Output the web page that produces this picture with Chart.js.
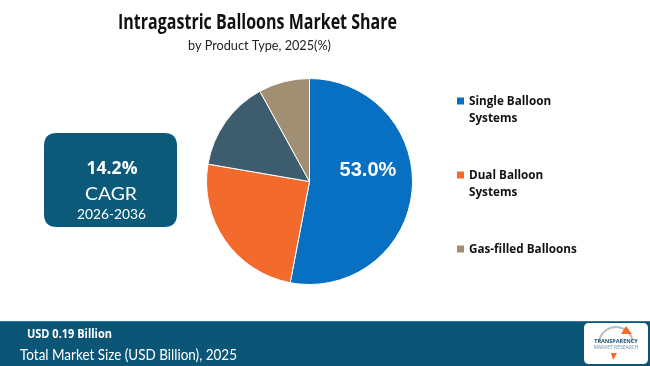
<!DOCTYPE html>
<html><head><meta charset="utf-8">
<script src="https://cdn.jsdelivr.net/npm/chart.js@4/dist/chart.umd.min.js"></script>
<style>html,body{margin:0;padding:0;background:#fff;}#wrap{width:650px;height:366px;position:relative;}</style>
</head><body><div id="wrap"><canvas id="c" width="650" height="366"></canvas></div>
<script>
const categories = ["Single Balloon Systems", "Dual Balloon Systems", "Others", "Gas-filled Balloons"];
const legendLines = [["Single Balloon", "Systems"], ["Dual Balloon", "Systems"], null, ["Gas-filled Balloons"]];
const shares = [53.0, 24.7, 14.3, 8.0];
const colors = ["#0770c2", "#f26b2d", "#3d5d6e", "#a08f72"];
const titleText = "Intragastric Balloons Market Share";
const subtitleText = "by Product Type, 2025(%)";
const cagrValue = "14.2%";
const cagrPeriod = "2026-2036";
const marketSize = "USD 0.19 Billion";
const marketLabel = "Total Market Size (USD Billion), 2025";

function rr(ctx,x,y,w,h,r){ctx.beginPath();ctx.moveTo(x+r,y);ctx.lineTo(x+w-r,y);ctx.quadraticCurveTo(x+w,y,x+w,y+r);ctx.lineTo(x+w,y+h-r);ctx.quadraticCurveTo(x+w,y+h,x+w-r,y+h);ctx.lineTo(x+r,y+h);ctx.quadraticCurveTo(x,y+h,x,y+h-r);ctx.lineTo(x,y+r);ctx.quadraticCurveTo(x,y,x+r,y);ctx.closePath();}
// draw text scaled horizontally by factor sx, anchored per textAlign
function stext(ctx,t,x,y,sx){ctx.save();ctx.translate(x,y);ctx.scale(sx,1);ctx.fillText(t,0,0);ctx.restore();}
function fitText(ctx,t,x,y,w){const m=ctx.measureText(t).width;stext(ctx,t,x,y,w/m);}

const deco = {
  id: 'deco',
  beforeDraw(chart){
    const ctx = chart.ctx;
    ctx.save();
    ctx.fillStyle = '#ffffff';
    ctx.fillRect(0,0,650,366);
    // title
    ctx.fillStyle = '#111';
    ctx.textAlign = 'center'; ctx.textBaseline = 'alphabetic';
    ctx.font = 'bold 21px "Open Sans"';
    fitText(ctx,titleText,257.5,29,279);
    ctx.font = '14px Lato';
    ctx.fillStyle = '#222';
    fitText(ctx,subtitleText,259.5,50,143);
    // CAGR box
    ctx.fillStyle = '#0b5a7a';
    rr(ctx,44,133,133,94,13); ctx.fill();
    ctx.fillStyle = '#fff';
    ctx.font = 'bold 18px "Open Sans"';
    fitText(ctx,cagrValue, 112, 174, 51);
    ctx.font = '18px Lato';
    fitText(ctx,'CAGR', 111, 200, 52);
    ctx.font = '14px Lato';
    fitText(ctx,cagrPeriod, 111.5, 219, 69);
    // bottom band
    ctx.fillStyle = '#0b5677';
    ctx.fillRect(0,321,650,45);
    ctx.fillStyle = '#2c7a9a';
    ctx.fillRect(0,321,650,1);
    ctx.fillStyle = '#fff';
    ctx.textAlign = 'left';
    ctx.font = 'bold 13px "Open Sans"';
    fitText(ctx,marketSize, 27, 338, 85);
    ctx.font = '16px Lato';
    fitText(ctx,marketLabel, 20, 360, 217);
    // logo
    ctx.fillStyle = '#fff';
    rr(ctx,584,323,64,41,5); ctx.fill();
    ctx.strokeStyle = '#bbb'; ctx.lineWidth = 2;
    ctx.beginPath(); ctx.arc(616,344,17,Math.PI*1.05,Math.PI*1.95); ctx.stroke();
    ctx.fillStyle = '#f26b2d';
    ctx.beginPath(); ctx.moveTo(626,326); ctx.lineTo(632,334); ctx.lineTo(621,334); ctx.closePath(); ctx.fill();
    ctx.fillStyle = '#1b4f72';
    ctx.textAlign = 'center';
    ctx.font = 'bold 5.5px "Open Sans"';
    ctx.fillText('TRANSPARENCY', 616, 343);
    ctx.fillStyle = '#6b8fa8';
    ctx.font = '5px "Open Sans"';
    ctx.fillText('MARKET RESEARCH', 616, 349);
    ctx.fillStyle = '#f26b2d';
    ctx.beginPath(); ctx.moveTo(611,353); ctx.lineTo(617,353); ctx.lineTo(613,360); ctx.closePath(); ctx.fill();
    ctx.restore();
  },
  afterDraw(chart){
    const ctx = chart.ctx;
    ctx.save();
    // legend
    ctx.textAlign = 'left'; ctx.textBaseline = 'middle';
    ctx.font = 'bold 13px "Open Sans"';
    const ys = [101, 175, 249];
    let k = 0;
    categories.forEach((c,i)=>{
      if(!legendLines[i]) return;
      const y = ys[k++];
      ctx.fillStyle = colors[i];
      ctx.fillRect(457, y-3.5, 7, 7);
      ctx.fillStyle = '#111';
      legendLines[i].forEach((ln,j)=>stext(ctx, ln, 469, y + j*17, 0.9));
    });
    // value label on largest slice
    const arc = chart.getDatasetMeta(0).data[0];
    const mid = (arc.startAngle + arc.endAngle)/2;
    const r = arc.outerRadius*0.57;
    ctx.fillStyle = '#fff';
    ctx.textAlign = 'center';
    ctx.font = 'bold 20px "Liberation Sans"';
    ctx.fillText(shares[0].toFixed(1)+'%', arc.x + Math.cos(mid)*r, arc.y + Math.sin(mid)*r - 17);
    ctx.restore();
  }
};

new Chart(document.getElementById('c'), {
  type: 'pie',
  data: { labels: categories, datasets: [{ data: shares, backgroundColor: colors, borderColor: '#ffffff', borderWidth: 1 }] },
  options: {
    responsive: false, animation: false,
    layout: { padding: { left: 206, right: 237, top: 78, bottom: 81 } },
    plugins: { legend: { display: false }, tooltip: { enabled: false }, title: { display: false } }
  },
  plugins: [deco]
});
</script></body></html>
